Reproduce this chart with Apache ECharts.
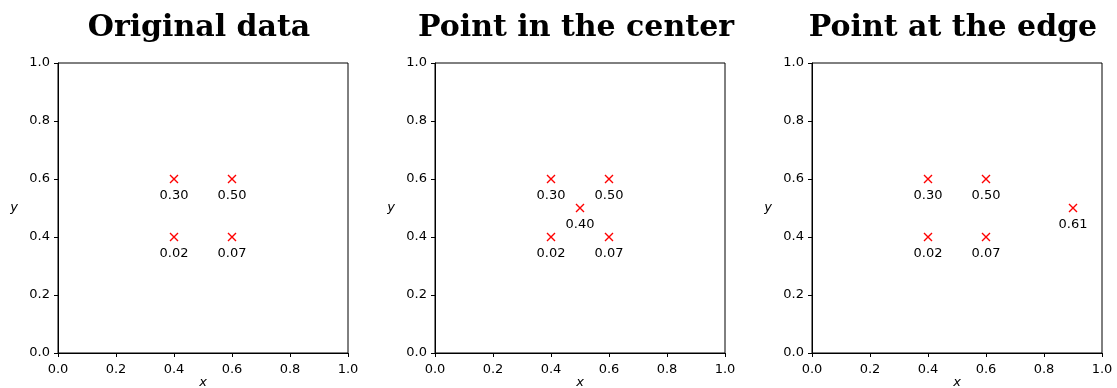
<!DOCTYPE html>
<html>
<head>
<meta charset="utf-8">
<script src="https://cdn.jsdelivr.net/npm/echarts@6/dist/echarts.min.js"></script>
<style>
  html, body { margin: 0; padding: 0; background: #fff; }
  #chart { width: 1117px; height: 388px; }
</style>
</head>
<body>
<div id="chart"></div>
<script>
// Panel titles
const titles = ['Original data', 'Point in the center', 'Point at the edge'];

// Point coordinates and their annotated values, one set per panel
const xs1 = [0.4, 0.6, 0.4, 0.6];
const ys1 = [0.6, 0.6, 0.4, 0.4];
const vals1 = ['0.30', '0.50', '0.02', '0.07'];

const xs2 = [0.4, 0.6, 0.4, 0.6, 0.5];
const ys2 = [0.6, 0.6, 0.4, 0.4, 0.5];
const vals2 = ['0.30', '0.50', '0.02', '0.07', '0.40'];

const xs3 = [0.4, 0.6, 0.4, 0.6, 0.9];
const ys3 = [0.6, 0.6, 0.4, 0.4, 0.5];
const vals3 = ['0.30', '0.50', '0.02', '0.07', '0.61'];

const panels = [
  { xs: xs1, ys: ys1, vals: vals1 },
  { xs: xs2, ys: ys2, vals: vals2 },
  { xs: xs3, ys: ys3, vals: vals3 }
];

const gridLefts = [58, 435, 812];
const gridTop = 63;
const gridSize = 290;

const tickFont = { fontFamily: 'DejaVu Sans', fontSize: 13, color: '#000' };
const crossPath = 'path://M0,0L10,10M10,0L0,10';

const option = {
  animation: false,
  backgroundColor: '#fff',
  title: titles.map((t, i) => ({
    text: t,
    left: gridLefts[i] + gridSize / 2 - 9,
    textAlign: 'center',
    top: 8,
    textStyle: { fontFamily: 'DejaVu Serif', fontWeight: 'bold', fontSize: 30, color: '#000' }
  })),
  grid: gridLefts.map(l => ({
    left: l, top: gridTop, width: gridSize, height: gridSize,
    outerBoundsMode: 'none', containLabel: false,
    show: true, borderColor: '#000', borderWidth: 1, backgroundColor: 'transparent'
  })),
  xAxis: gridLefts.map((l, i) => ({
    type: 'value', gridIndex: i, min: 0, max: 1, interval: 0.2,
    name: 'x', nameLocation: 'middle', nameGap: 23, nameMoveOverlap: false,
    nameTextStyle: { fontFamily: 'DejaVu Sans', fontStyle: 'italic', fontSize: 13, color: '#000' },
    axisLine: { show: true, onZero: false, lineStyle: { color: '#000', width: 1 } },
    axisTick: { show: true, length: 4, lineStyle: { color: '#000' } },
    axisLabel: Object.assign({ margin: 10, formatter: v => v.toFixed(1) }, tickFont),
    splitLine: { show: false }
  })),
  yAxis: gridLefts.map((l, i) => ({
    type: 'value', gridIndex: i, min: 0, max: 1, interval: 0.2,
    name: 'y', nameLocation: 'middle', nameGap: 40, nameRotate: 0, nameMoveOverlap: false,
    nameTextStyle: { fontFamily: 'DejaVu Sans', fontStyle: 'italic', fontSize: 13, color: '#000' },
    axisLine: { show: true, onZero: false, lineStyle: { color: '#000', width: 1 } },
    axisTick: { show: true, length: 4, lineStyle: { color: '#000' } },
    axisLabel: Object.assign({ margin: 8, formatter: v => v.toFixed(1) }, tickFont),
    splitLine: { show: false }
  })),
  series: panels.map((p, i) => ({
    type: 'scatter',
    xAxisIndex: i, yAxisIndex: i,
    symbol: crossPath,
    symbolSize: 8,
    itemStyle: { color: 'none', borderColor: '#ff0000', borderWidth: 1.4, opacity: 1 },
    label: {
      show: true, position: 'bottom', distance: 4,
      formatter: params => params.data[2],
      fontFamily: 'DejaVu Sans', fontSize: 13, color: '#000'
    },
    data: p.xs.map((x, k) => [x, p.ys[k], p.vals[k]])
  }))
};

const chart = echarts.init(document.getElementById('chart'), null, { renderer: 'canvas' });
chart.setOption(option);
</script>
</body>
</html>
